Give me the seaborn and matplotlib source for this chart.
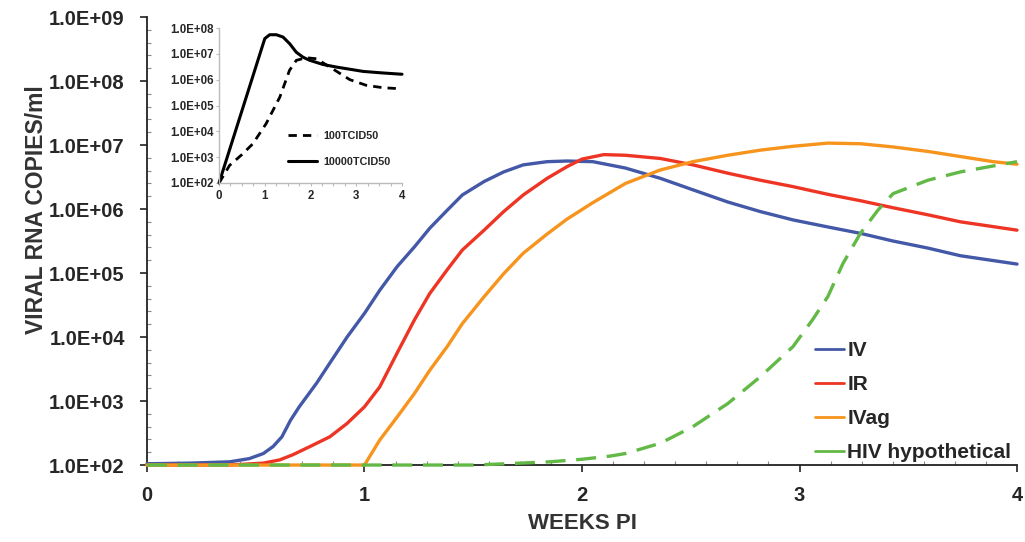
import numpy as np
import pandas as pd
import matplotlib
matplotlib.use("Agg")
import matplotlib.pyplot as plt
import matplotlib.ticker as mticker
import seaborn as sns

sns.set_style("white")
plt.rcParams['font.family'] = ['Liberation Sans', 'DejaVu Sans']
plt.rcParams['font.weight'] = 'bold'

# ---- main chart data (weeks PI, log10 copies/ml) ----
iv_weeks = [0, 0.2, 0.38, 0.47, 0.535, 0.58, 0.62, 0.66, 0.70, 0.78, 0.84, 0.92, 1.0, 1.07, 1.15, 1.23, 1.30, 1.38, 1.45, 1.55, 1.64, 1.73, 1.84, 1.93, 2.05, 2.2, 2.36, 2.51, 2.67, 2.82, 2.97, 3.13, 3.28, 3.43, 3.59, 3.74, 4.0]
iv_log = [2.02, 2.03, 2.05, 2.10, 2.18, 2.29, 2.44, 2.70, 2.91, 3.28, 3.59, 4.0, 4.37, 4.73, 5.10, 5.41, 5.70, 5.98, 6.22, 6.43, 6.58, 6.69, 6.74, 6.75, 6.74, 6.64, 6.48, 6.30, 6.11, 5.96, 5.83, 5.72, 5.62, 5.50, 5.39, 5.27, 5.14]

ir_weeks = [0, 0.38, 0.535, 0.61, 0.67, 0.75, 0.84, 0.92, 1.0, 1.07, 1.15, 1.23, 1.30, 1.38, 1.45, 1.55, 1.64, 1.73, 1.84, 1.93, 2.0, 2.1, 2.2, 2.36, 2.51, 2.67, 2.82, 2.97, 3.13, 3.28, 3.43, 3.59, 3.74, 4.0]
ir_log = [2.0, 2.0, 2.03, 2.08, 2.16, 2.29, 2.44, 2.65, 2.91, 3.22, 3.75, 4.27, 4.68, 5.05, 5.36, 5.67, 5.96, 6.22, 6.48, 6.66, 6.78, 6.85, 6.84, 6.79, 6.69, 6.56, 6.45, 6.35, 6.23, 6.13, 6.02, 5.91, 5.80, 5.67]

ivag_weeks = [0, 0.5, 1.0, 1.07, 1.15, 1.23, 1.30, 1.38, 1.45, 1.55, 1.64, 1.73, 1.84, 1.93, 2.05, 2.2, 2.36, 2.51, 2.67, 2.82, 2.97, 3.13, 3.28, 3.43, 3.59, 3.74, 3.89, 4.0]
ivag_log = [2.0, 2.0, 2.0, 2.39, 2.75, 3.12, 3.48, 3.85, 4.21, 4.63, 4.99, 5.31, 5.61, 5.84, 6.10, 6.40, 6.61, 6.74, 6.84, 6.92, 6.98, 7.03, 7.02, 6.97, 6.90, 6.82, 6.74, 6.70]

hiv_weeks = [0, 0.5, 1.0, 1.5, 1.65, 1.85, 2.0, 2.13, 2.2, 2.36, 2.51, 2.67, 2.82, 2.97, 3.06, 3.13, 3.2, 3.28, 3.36, 3.43, 3.59, 3.74, 4.0]
hiv_log = [2.0, 2.0, 2.0, 2.0, 2.02, 2.05, 2.09, 2.14, 2.18, 2.34, 2.60, 2.96, 3.38, 3.85, 4.27, 4.63, 5.15, 5.62, 5.98, 6.24, 6.45, 6.58, 6.74]

series_names = ["IV", "IR", "IVag", "HIV hypothetical"]
series_colors = ["#4358A7", "#EE3524", "#F7941D", "#62B946"]

# ---- inset data ----
tcid100_weeks = [0, 0.23, 0.5, 0.74, 1.03, 1.33, 1.54, 1.69, 1.91, 2.13, 2.42, 2.86, 3.22, 3.58, 3.95]
tcid100_log = [2.0, 2.68, 3.1, 3.52, 4.3, 5.33, 6.36, 6.75, 6.85, 6.81, 6.49, 6.0, 5.78, 5.69, 5.65]
tcid10000_weeks = [0, 1.0, 1.107, 1.253, 1.399, 1.545, 1.69, 1.836, 1.982, 2.27, 2.56, 3.15, 3.58, 4.0]
tcid10000_log = [2.0, 7.59, 7.74, 7.74, 7.65, 7.39, 7.06, 6.87, 6.75, 6.59, 6.49, 6.32, 6.26, 6.21]

main_ticks = ["1.0E+02", "1.0E+03", "1.0E+04", "1.0E+05", "1.0E+06", "1.0E+07", "1.0E+08", "1.0E+09"]
inset_ticks = ["1.0E+02", "1.0E+03", "1.0E+04", "1.0E+05", "1.0E+06", "1.0E+07", "1.0E+08"]

fig = plt.figure(figsize=(10.25, 5.42), dpi=100)
ax = fig.add_axes([0.1434, 0.142, 0.8488, 0.8266])

frames = []
for name, w, lv in [("IV", iv_weeks, iv_log), ("IR", ir_weeks, ir_log),
                    ("IVag", ivag_weeks, ivag_log), ("HIV hypothetical", hiv_weeks, hiv_log)]:
    frames.append(pd.DataFrame({"weeks": w, "copies": 10.0 ** np.array(lv), "route": name}))
df = pd.concat(frames, ignore_index=True)

for name, col in zip(series_names, series_colors):
    sub = df[df["route"] == name]
    sns.lineplot(data=sub, x="weeks", y="copies", ax=ax, color=col, linewidth=2.4,
                 label=name, sort=True, estimator=None, clip_on=False, zorder=3)
ax.lines[3].set_dashes((6, 3.2))
for ln in ax.lines:
    ln.set_solid_joinstyle("round")
    ln.set_dash_joinstyle("round")

ax.set_yscale("log")
ax.set_ylim(1e2, 1e9)
ax.set_xlim(0, 4)
ax.set_yticks([10.0 ** k for k in range(2, 10)])
ax.set_yticklabels(main_ticks)
ax.yaxis.set_minor_locator(mticker.FixedLocator(
    [10.0 ** (k + f) for k in range(2, 9) for f in (0.2, 0.4, 0.6, 0.8)]))
ax.yaxis.set_minor_formatter(mticker.NullFormatter())
ax.set_xticks([0, 1, 2, 3, 4])
ax.set_xticklabels(["0", "1", "2", "3", "4"])
ax.xaxis.set_minor_locator(mticker.MultipleLocator(1 / 7))
for s in ["top", "right"]:
    ax.spines[s].set_visible(False)
for s in ["left", "bottom"]:
    ax.spines[s].set_color("#222222")
    ax.spines[s].set_linewidth(1.3)
ax.tick_params(axis="both", which="major", direction="out", length=5, width=1.2,
               color="#222222", labelsize=14.5, pad=11, left=True, bottom=True)
ax.tick_params(axis="y", which="minor", direction="in", length=3, width=0.8, color="#888888", left=True)
ax.tick_params(axis="x", which="minor", direction="in", length=3, width=0.8, color="#888888", bottom=True)
ax.tick_params(axis="x", which="major", pad=10)
for lab in ax.get_xticklabels() + ax.get_yticklabels():
    lab.set_fontweight("bold")
ax.set_xlabel("WEEKS PI", fontsize=16, fontweight="bold", color="#333333", labelpad=6)
ax.set_ylabel("VIRAL RNA COPIES/ml", fontsize=16.5, fontweight="bold", color="#333333")
ax.yaxis.set_label_coords(-0.114, 0.571)
ax.grid(False)

leg = ax.legend(loc="lower right", bbox_to_anchor=(1.015, -0.035), frameon=False, fontsize=15,
                handlelength=1.4, handletextpad=0.15, labelspacing=0.72)
for t in leg.get_texts():
    t.set_fontweight("bold")
for h in leg.get_lines():
    h.set_linewidth(2.0)
    h.set_linestyle("-")

# ---- inset ----
axi = fig.add_axes([0.2137, 0.6624, 0.1785, 0.2859])
inset_df = pd.concat([
    pd.DataFrame({"weeks": tcid100_weeks, "copies": 10.0 ** np.array(tcid100_log), "dose": "100TCID50"}),
    pd.DataFrame({"weeks": tcid10000_weeks, "copies": 10.0 ** np.array(tcid10000_log), "dose": "10000TCID50"}),
], ignore_index=True)
sns.lineplot(data=inset_df[inset_df["dose"] == "100TCID50"], x="weeks", y="copies", ax=axi,
             color="black", linewidth=2.0, label="100TCID50", estimator=None, clip_on=False)
sns.lineplot(data=inset_df[inset_df["dose"] == "10000TCID50"], x="weeks", y="copies", ax=axi,
             color="black", linewidth=2.2, label="10000TCID50", estimator=None, clip_on=False)
axi.lines[0].set_dashes((3, 2.2))
for ln in axi.lines:
    ln.set_solid_joinstyle("round")
axi.set_yscale("log")
axi.set_ylim(1e2, 1e8)
axi.set_xlim(0, 4)
axi.set_yticks([10.0 ** k for k in range(2, 9)])
axi.set_yticklabels(inset_ticks)
axi.yaxis.set_minor_locator(mticker.NullLocator())
axi.set_xticks([0, 1, 2, 3, 4])
axi.set_xticklabels(["0", "1", "2", "3", "4"])
axi.xaxis.set_minor_locator(mticker.MultipleLocator(0.25))
axi.patch.set_alpha(0)
for s in ["top", "right"]:
    axi.spines[s].set_visible(False)
for s in ["left", "bottom"]:
    axi.spines[s].set_color("#BBBBBB")
    axi.spines[s].set_linewidth(1.0)
axi.tick_params(axis="both", which="both", direction="out", length=2, width=0.8,
                color="#BBBBBB", labelsize=8.3, pad=1.5, left=True, bottom=True)
axi.tick_params(axis="x", which="both", pad=3)
for lab in axi.get_xticklabels() + axi.get_yticklabels():
    lab.set_fontweight("bold")
axi.set_xlabel("")
axi.set_ylabel("")
axi.grid(False)
legi = axi.legend(loc="upper left", bbox_to_anchor=(0.377, 0.338), frameon=False, fontsize=7.8,
                  handlelength=2.7, handletextpad=0.55, labelspacing=1.5, borderpad=0, borderaxespad=0)
for t in legi.get_texts():
    t.set_fontweight("bold")

fig.savefig("out.png", dpi=100)
